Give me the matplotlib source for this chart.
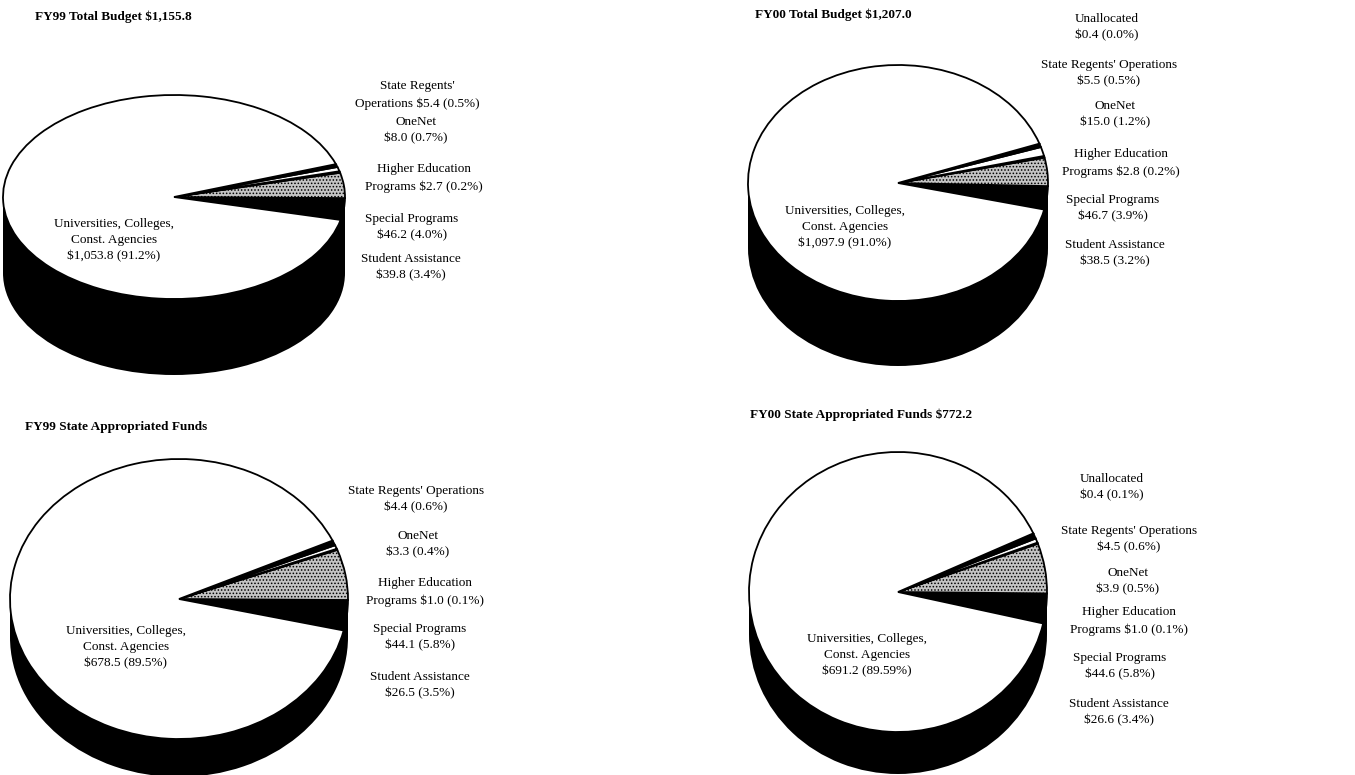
import matplotlib.pyplot as plt
from matplotlib.patches import Rectangle

plt.rcParams['font.family'] = ['Liberation Serif', 'DejaVu Serif']
plt.rcParams['hatch.linewidth'] = 0.7

W, H = 1355, 775

# data (millions of dollars), pie order: counterclockwise from lower right
cats = ["Student Assistance", "Special Programs", "Higher Education Programs",
        "OneNet", "State Regents' Operations", "Unallocated",
        "Universities, Colleges, Const. Agencies"]

fy99_total = [39.8, 46.2, 2.7, 8.0, 5.4, 0.0, 1053.8]
fy99_total_pct = ["3.4%", "4.0%", "0.2%", "0.7%", "0.5%", "", "91.2%"]

fy00_total = [38.5, 46.7, 2.8, 15.0, 5.5, 0.4, 1097.9]
fy00_total_pct = ["3.2%", "3.9%", "0.2%", "1.2%", "0.5%", "0.0%", "91.0%"]

fy99_state = [26.5, 44.1, 1.0, 3.3, 4.4, 0.0, 678.5]
fy99_state_pct = ["3.5%", "5.8%", "0.1%", "0.4%", "0.6%", "", "89.5%"]

fy00_state = [26.6, 44.6, 1.0, 3.9, 4.5, 0.4, 691.2]
fy00_state_pct = ["3.4%", "5.8%", "0.1%", "0.5%", "0.6%", "0.1%", "89.59%"]

titles = ["FY99 Total Budget $1,155.8", "FY00 Total Budget $1,207.0",
          "FY99 State Appropriated Funds", "FY00 State Appropriated Funds $772.2"]

# how each category name is split over lines in each panel
names_a = ["Student Assistance\n", "Special Programs\n", "Higher Education\nPrograms",
           "OneNet\n", "State Regents'\nOperations", "Unallocated\n"]
names_b = ["Student Assistance\n", "Special Programs\n", "Higher Education\nPrograms",
           "OneNet\n", "State Regents' Operations\n", "Unallocated\n"]

fills = ['black', '#c4c4c4', 'white', 'white', 'black', 'white', 'white']
hatches = [None, '.....', None, None, None, None, None]

# layout: pie apex centre, semi axes, depth (pixels), label x, label y per slice, main label pos
panels = [
    dict(vals=fy99_total, pct=fy99_total_pct, names=names_a, title=titles[0], tpos=(35, 17),
         cx=174, cy=197, a=171, b=102, d=76, start=-13,
         lx=[411, 412, 424, 416, 417, None], ly=[267, 227, 178, 130, 95, None], upos=(114, 240)),
    dict(vals=fy00_total, pct=fy00_total_pct, names=names_b, title=titles[1], tpos=(755, 15),
         cx=898, cy=183, a=150, b=118, d=65, start=-13,
         lx=[1115, 1113, 1121, 1115, 1109, 1107], ly=[253, 208, 163, 114, 73, 27], upos=(845, 227)),
    dict(vals=fy99_state, pct=fy99_state_pct, names=names_b, title=titles[2], tpos=(25, 427),
         cx=179, cy=599, a=169, b=140, d=38, start=-13,
         lx=[420, 420, 425, 418, 416, None], ly=[685, 637, 592, 544, 499, None], upos=(126, 647)),
    dict(vals=fy00_state, pct=fy00_state_pct, names=names_b, title=titles[3], tpos=(750, 415),
         cx=898, cy=592, a=149, b=140, d=42, start=-13,
         lx=[1119, 1120, 1129, 1128, 1129, 1112], ly=[712, 666, 621, 581, 539, 487], upos=(867, 655)),
]

fig = plt.figure(figsize=(W / 100, H / 100), dpi=100)

for p in panels:
    a, b, d = p['a'], p['b'], p['d']
    m = 3  # pixel margin
    rect = [(p['cx'] - a - m) / W, 1 - (p['cy'] + b + d + m) / H,
            (2 * a + 2 * m) / W, (2 * b + d + 2 * m) / H]
    ax = fig.add_axes(rect)
    dep = d / b
    mx, my = m / a, m / b

    # pie body: bottom ellipse and side wall
    ax.pie([1], colors=['black'], center=(0, -dep), radius=1,
           wedgeprops=dict(linewidth=0))
    ax.add_patch(Rectangle((-1, -dep), 2, dep, color='black', lw=0))

    # top face
    vals = p['vals']
    keep = [i for i, v in enumerate(vals) if v > 0]
    wedges, _ = ax.pie([vals[i] for i in keep], colors=[fills[i] for i in keep],
                       startangle=p['start'], counterclock=True,
                       wedgeprops=dict(edgecolor='black', linewidth=1.3))
    for w, i in zip(wedges, keep):
        if hatches[i]:
            w.set_hatch(hatches[i])

    ax.set_aspect('auto')
    ax.set_xlim(-1 - mx, 1 + mx)
    ax.set_ylim(-1 - dep - my, 1 + my)
    ax.axis('off')

    fig.text(p['tpos'][0] / W, 1 - p['tpos'][1] / H, p['title'], fontsize=9.5,
             fontweight='bold', ha='left', va='center')

    for i in range(6):
        if p['lx'][i] is None:
            continue
        name = p['names'][i]
        txt = f"{name} ${vals[i]:.1f} ({p['pct'][i]})"
        txt = "\n".join(s.strip() for s in txt.split("\n"))
        fig.text(p['lx'][i] / W, 1 - p['ly'][i] / H, txt, fontsize=9.5,
                 ha='center', va='center', linespacing=1.5, multialignment='center')

    big = vals[6]
    utxt = f"Universities, Colleges,\nConst. Agencies\n${big:,.1f} ({p['pct'][6]})"
    fig.text(p['upos'][0] / W, 1 - p['upos'][1] / H, utxt, fontsize=9.5,
             ha='center', va='center', linespacing=1.45, multialignment='center')

fig.savefig('out.png', dpi=100, facecolor='white')
